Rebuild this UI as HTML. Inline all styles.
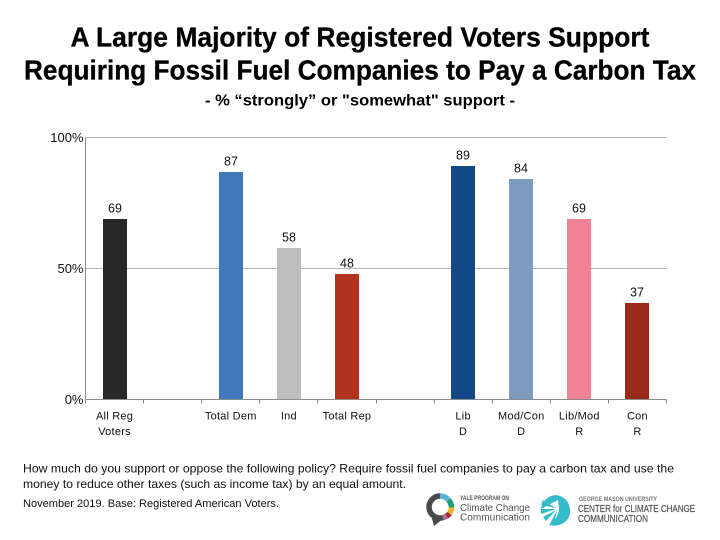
<!DOCTYPE html>
<html lang="en">
<head>
<meta charset="utf-8">
<title>Carbon Tax Support</title>
<style>
html,body{margin:0;padding:0;background:#fff;width:720px;height:540px;overflow:hidden}
svg{display:block}
text{font-family:"Liberation Sans",sans-serif;fill:#111}
</style>
</head>
<body>
<svg id="chart" xmlns="http://www.w3.org/2000/svg" width="720" height="540" viewBox="0 0 720 540">
  <rect width="720" height="540" fill="#fff"/>
  <text x="360" y="46.5" text-anchor="middle" font-size="28" font-weight="700" style="fill:#000" stroke="#000" stroke-width=".3" textLength="579" lengthAdjust="spacingAndGlyphs">A Large Majority of Registered Voters Support</text>
  <text x="360" y="79.5" text-anchor="middle" font-size="28" font-weight="700" style="fill:#000" stroke="#000" stroke-width=".3" textLength="672" lengthAdjust="spacingAndGlyphs">Requiring Fossil Fuel Companies to Pay a Carbon Tax</text>
  <text x="360" y="105.5" text-anchor="middle" font-size="16" font-weight="700" style="fill:#000" textLength="310" lengthAdjust="spacingAndGlyphs">- % “strongly” or "somewhat" support -</text>

  <g id="grid"></g>
  <g id="bars"></g>
  <g id="axes"></g>
  <g id="labels"></g>

  <text x="23" y="472.5" font-size="12" textLength="651" lengthAdjust="spacingAndGlyphs">How much do you support or oppose the following policy? Require fossil fuel companies to pay a carbon tax and use the</text>
  <text x="23" y="488" font-size="12" textLength="383" lengthAdjust="spacingAndGlyphs">money to reduce other taxes (such as income tax) by an equal amount.</text>
  <text x="23" y="507" font-size="11" textLength="256" lengthAdjust="spacingAndGlyphs">November 2019. Base: Registered American Voters.</text>

  <g>
    <g fill="none" stroke-width="5.5">
      <path d="M440 496 A11 11 0 1 0 443 517.6" stroke="#4a4a4a"/>
      <path d="M440 496 A11 11 0 0 1 448.5 500" stroke="#58b4d6"/>
      <path d="M448.5 500 A11 11 0 0 1 451.5 507.5" stroke="#1f9e77"/>
      <path d="M451.5 507.5 A11 11 0 0 1 449.5 513.5" stroke="#f0b429"/>
      <path d="M449.5 513.5 A11 11 0 0 1 446.5 516.3" stroke="#a6283e"/>
      <path d="M446.5 516.3 A11 11 0 0 1 443 517.6" stroke="#a86a96"/>
    </g>
    <path d="M431 515 L434 526 L443 519 Z" fill="#4a4a4a"/>
    <text x="460" y="500" font-size="6" font-weight="700" style="fill:#555" textLength="49" lengthAdjust="spacingAndGlyphs">YALE PROGRAM ON</text>
    <text x="460" y="511" font-size="10.5" style="fill:#555" textLength="70" lengthAdjust="spacingAndGlyphs">Climate Change</text>
    <text x="460" y="520.5" font-size="10.5" style="fill:#555" textLength="70" lengthAdjust="spacingAndGlyphs">Communication</text>
  </g>

  <g>
    <path d="M541 509 C543 498 553 493 560 496 C569 499 572 510 569 517 C565 525 555 527 549 525 C553 522 558 518 559 509 L558 500 Z" fill="#35bccb"/>
    <path d="M556 508 L543 500 L541 505 Z M556 509 L541 509 L541 514 Z M556 510 L543 517 L546 521 Z M557 510 L550 524 L554 525 Z" fill="#35bccb"/>
    <text x="579" y="501" font-size="6" font-weight="700" style="fill:#777" textLength="78" lengthAdjust="spacingAndGlyphs">GEORGE MASON UNIVERSITY</text>
    <text x="578" y="512" font-size="10" style="fill:#555" stroke="#555" stroke-width=".2" textLength="117" lengthAdjust="spacingAndGlyphs">CENTER for CLIMATE CHANGE</text>
    <text x="578" y="522" font-size="10" style="fill:#555" stroke="#555" stroke-width=".2" textLength="70" lengthAdjust="spacingAndGlyphs">COMMUNICATION</text>
  </g>
</svg>
<script>
const categories = [["All Reg","Voters"],[],["Total Dem"],["Ind"],["Total Rep"],[],["Lib","D"],["Mod/Con","D"],["Lib/Mod","R"],["Con","R"]];
const values = [69,null,87,58,48,null,89,84,69,37];
const barColors = ["#282828",null,"#4178bc","#bdbdbd","#b1321f",null,"#134887","#7f9cc0","#f08296","#98291b"];
const yTicks = [0,50,100];

const NS = "http://www.w3.org/2000/svg";
const plot = {left:85.5, right:666.5, top:137.5, bottom:399.5};
function xBand(i){ return plot.left + i * (plot.right - plot.left) / categories.length; }
function xCenter(i){ return xBand(i) + (plot.right - plot.left) / categories.length / 2; }
function yScale(v){ return plot.bottom - v / 100 * (plot.bottom - plot.top); }
function make(tag, attrs, parent, txt){
  const el = document.createElementNS(NS, tag);
  for (const k in attrs) el.setAttribute(k, attrs[k]);
  if (txt !== undefined) el.textContent = txt;
  document.getElementById(parent).appendChild(el);
  return el;
}

yTicks.forEach(function(t){
  const y = yScale(t);
  if (t > 0) {
    const g = make("line", {x1:plot.left, x2:plot.right, y1:y, y2:y, stroke:"#b4b4b4", "stroke-width":1}, "grid");
    
    
  }
  const l = make("text", {x:83.5, y:y+4.5, "text-anchor":"end", "font-size":13}, "labels", t + "%");
  
  
});

values.forEach(function(v, i){
  if (v === null) return;
  const bw = 24;
  const bx = Math.round(xCenter(i) - bw / 2);
  const by = Math.round(yScale(v));
  const bar = make("rect", {x:bx, y:by, width:bw, height:399-by, fill:barColors[i]}, "bars");
  
  
  const lab = make("text", {x:bx+bw/2, y:by-6.5, "text-anchor":"middle", "font-size":12.5}, "labels", String(v));
  
  
});

const yAxis = make("line", {x1:plot.left, x2:plot.left, y1:plot.top, y2:plot.bottom+4, stroke:"#8c8c8c", "stroke-width":1}, "axes");


const xAxis = make("line", {x1:plot.left, x2:plot.right, y1:plot.bottom, y2:plot.bottom, stroke:"#8c8c8c", "stroke-width":1}, "axes");



for (let i = 1; i <= categories.length; i++) {
  const tx = Math.floor(xBand(i)) + 0.5;
  const tick = make("line", {x1:tx, x2:tx, y1:plot.bottom, y2:plot.bottom+4, stroke:"#8c8c8c", "stroke-width":1}, "axes");
  
  
}

categories.forEach(function(lines, i){
  lines.forEach(function(s, j){
    const c = make("text", {x:xCenter(i), y:419.5+j*15.5, "text-anchor":"middle", "font-size":11, "letter-spacing":".25"}, "labels", s);
    
    
  });
});
</script>
</body>
</html>
